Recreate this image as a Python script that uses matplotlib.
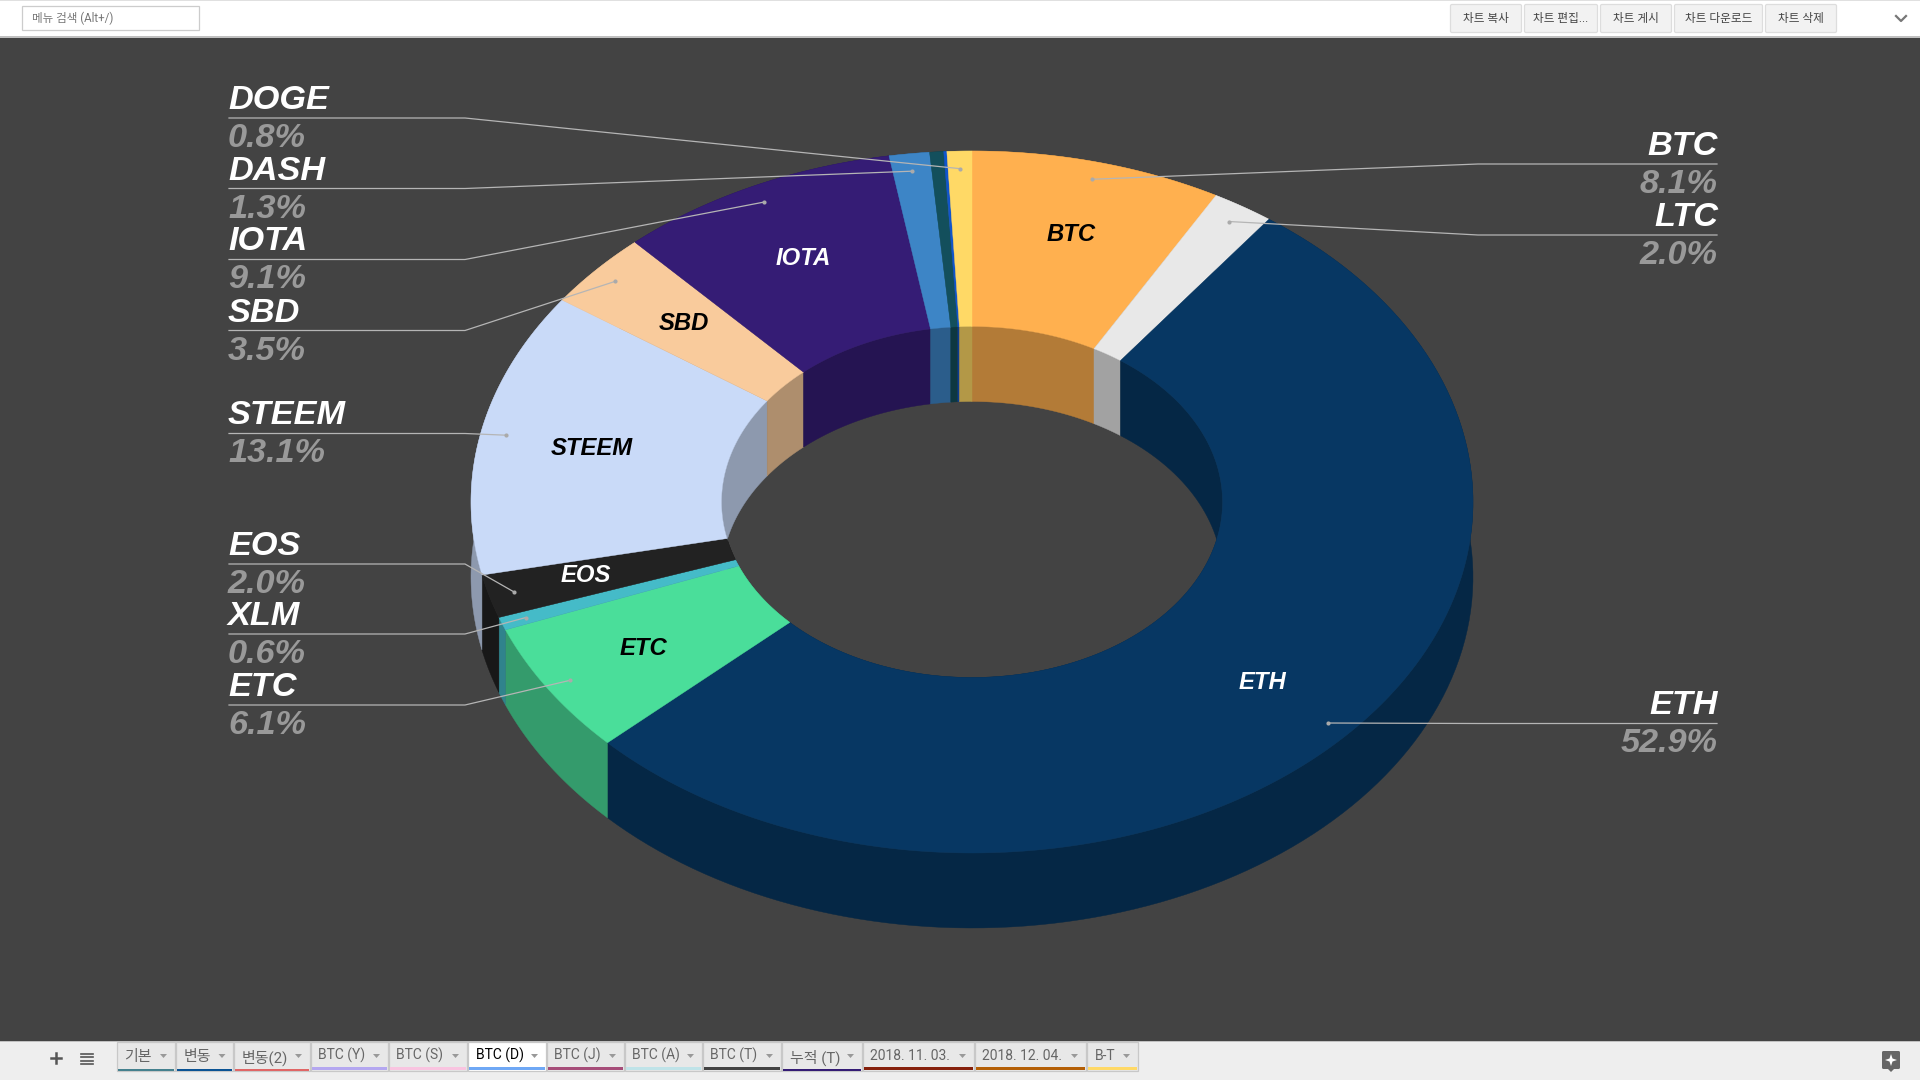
import matplotlib
matplotlib.use('Agg')
import matplotlib.pyplot as plt
import numpy as np
from matplotlib.patches import Rectangle, FancyBboxPatch, Polygon

# slices clockwise from 12 o'clock
names = ['BTC', 'LTC', 'ETH', 'ETC', 'XLM', 'EOS', 'STEEM', 'SBD', 'IOTA', 'DASH', 'NEO', 'ETN', 'DOGE']
values = [8.1, 2.0, 52.9, 6.1, 0.6, 2.0, 13.1, 3.5, 9.1, 1.3, 0.45, 0.1, 0.8]
colors = ['#ffb04f', '#e8e8e8', '#073763', '#4ade9a', '#45bbc8', '#222222', '#c9daf8',
          '#f9cb9c', '#351c75', '#3d85c6', '#134f5c', '#1155cc', '#ffd966']

# labels inside the slices and their colour
inner_labels = {'BTC': 'black', 'ETH': 'white', 'ETC': 'black', 'EOS': 'white',
                'STEEM': 'black', 'SBD': 'black', 'IOTA': 'white'}
# small pixel corrections for the inside labels
inner_nudge = {'BTC': (1.2, -2.5), 'ETH': (-2.4, -1.3), 'ETC': (1.2, -0.1), 'EOS': (-9.8, -0.1),
               'STEEM': (2.4, 1.2), 'SBD': (4.9, 2.4), 'IOTA': (2.4, 2.4)}

# callouts: name, y of the horizontal part of the leader
left_callouts = [('DOGE', 118), ('DASH', 188.5), ('IOTA', 259.5), ('SBD', 330.5),
                 ('STEEM', 433.5), ('EOS', 564), ('XLM', 634), ('ETC', 705)]
right_callouts = [('BTC', 164), ('LTC', 235), ('ETH', 723.5)]

# toolbar + tabs
search_text = '메뉴 검색 (Alt+/)'
buttons = ['차트 복사', '차트 편집...', '차트 게시', '차트 다운로드', '차트 삭제']
button_edges = [(1450, 1522), (1524, 1598), (1600, 1672), (1674, 1763), (1765, 1837)]
tabs = ['기본', '변동', '변동(2)', 'BTC (Y)', 'BTC (S)', 'BTC (D)', 'BTC (J)', 'BTC (A)', 'BTC (T)',
        '누적 (T)', '2018. 11. 03.', '2018. 12. 04.', 'B-T']
tab_edges = [116, 175, 233.5, 310, 388, 467, 546, 624, 702, 781, 862, 974, 1086, 1138]
tab_colors = ['#45818e', '#0b5394', '#e06666', '#b4a7f0', '#f9c4e0', '#6fa8f5', '#a64d79',
              '#bfe3e8', '#434343', '#351c75', '#85200c', '#b45f06', '#ffd966']
thin_tabs = ['기본', '변동', '변동(2)', '누적 (T)']
active_tab = 'BTC (D)'

BG = '#434343'
cx, cy, rx, ry = 972, 502, 501, 351
hole = 0.5
depth = 75
shade = 0.7

UI_FONT = ['Roboto', 'Noto Sans CJK KR', 'DejaVu Sans']

fig = plt.figure(figsize=(19.2, 10.8), dpi=100, facecolor=BG)
ax = fig.add_axes([0, 0, 1, 1])
ax.set_xlim(0, 1920)
ax.set_ylim(1080, 0)
ax.axis('off')


def pt(theta, r=1.0):
    return cx + r * rx * np.sin(theta), cy - r * ry * np.cos(theta)


def darker(c):
    return tuple(v * shade for v in matplotlib.colors.to_rgb(c))


shares = np.array(values) / sum(values)
ends = np.cumsum(shares) * 2 * np.pi
starts = ends - shares * 2 * np.pi
mids = (starts + ends) / 2

# walls first, the top faces cover whatever is not visible
for a, b, c in zip(starts, ends, colors):
    t = np.linspace(a, b, 120)
    for r in (hole, 1.0):
        x, y = pt(t, r)
        ax.fill(np.r_[x, x[::-1]], np.r_[y, y[::-1] + depth], color=darker(c), lw=0.3, zorder=1)

for a, b, c in zip(starts, ends, colors):
    t = np.linspace(a, b, 200)
    xo, yo = pt(t)
    xi, yi = pt(t, hole)
    ax.fill(np.r_[xo, xi[::-1]], np.r_[yo, yi[::-1]], color=c, lw=0.3, zorder=2)

# labels on the slices
for n, m in zip(names, mids):
    if n in inner_labels:
        x, y = pt(m, 0.78)
        ax.text(x + inner_nudge[n][0], y + inner_nudge[n][1], n, color=inner_labels[n], fontsize=17.2,
                family='Liberation Sans', weight='bold', style='italic', ha='center', va='center', zorder=4)

# leaders + callout text
LEAD = '#b5b5b5'
PCT = '#999999'
idx = {n: i for i, n in enumerate(names)}


def callout(name, ly, x_end, x_elbow, x_text, ha):
    i = idx[name]
    x, y = pt(mids[i], 0.95)
    ax.plot([x_end, x_elbow, x], [ly, ly, y], color=LEAD, lw=0.9, zorder=3, solid_joinstyle='miter')
    ax.plot([x], [y], 'o', color='#aaaaaa', ms=3, mew=0, zorder=3)
    ax.text(x_text, ly - 9, name, color='white', fontsize=24.7, family='Liberation Sans',
            weight='bold', style='italic', ha=ha, va='baseline', zorder=4)
    ax.text(x_text, ly + 29, '%.1f%%' % values[i], color=PCT, fontsize=24.7, family='Liberation Sans',
            weight='bold', style='italic', ha=ha, va='baseline', zorder=4)


for name, ly in left_callouts:
    callout(name, ly, 229, 465, 228, 'left')
for name, ly in right_callouts:
    callout(name, ly, 1717, 1478, 1718, 'right')

# top toolbar
ax.add_patch(Rectangle((0, 0), 1920, 36, fc='white', ec='none', zorder=5))
ax.add_patch(Rectangle((0, 0), 1920, 1, fc='#e0e0e0', ec='none', zorder=5))
ax.add_patch(Rectangle((0, 36), 1920, 1.7, fc='#c0c0c0', ec='none', zorder=5))
ax.add_patch(Rectangle((22, 5.5), 177, 24, fc='white', ec='#cccccc', lw=0.9, zorder=6))
ax.text(31.5, 18, search_text, color='#777777', fontsize=8.3, family=UI_FONT, va='center', ha='left', zorder=7)
for label, (x0, x1) in zip(buttons, button_edges):
    ax.add_patch(FancyBboxPatch((x0 + 0.5, 4.5), x1 - x0 - 1, 28, boxstyle='round,pad=0,rounding_size=1.5',
                                fc='#f2f2f2', ec='#dddddd', lw=0.9, zorder=6))
    ax.text((x0 + x1) / 2, 18.5, label, color='#444444', fontsize=8.4, family=UI_FONT, ha='center', va='center', zorder=7)
ax.plot([1896, 1901, 1906], [16, 21, 16], color='#777777', lw=1.6, zorder=7)

# bottom tab strip
ax.add_patch(Rectangle((0, 1041.5), 1920, 39, fc='#eeeeee', ec='none', zorder=5))
ax.add_patch(Rectangle((0, 1041), 1920, 1, fc='#c0c0c0', ec='none', zorder=5))
ax.plot([51, 61], [1058, 1058], color='#555555', lw=1.8, zorder=7)
ax.plot([56, 56], [1053, 1063], color='#555555', lw=1.8, zorder=7)
for yy in (1053.5, 1057, 1060.5, 1064):
    ax.plot([81, 93], [yy, yy], color='#555555', lw=1.2, zorder=7)

for k, label in enumerate(tabs):
    x0, x1 = tab_edges[k], tab_edges[k + 1]
    active = label == active_tab
    ax.add_patch(Rectangle((x0 + 0.5, 1041.5 if active else 1042), x1 - x0 - 1, 29,
                           fc='white' if active else '#e8e8e8', ec='#c8c8c8', lw=0.9, zorder=6))
    if label in thin_tabs:
        ax.add_patch(Rectangle((x0 + 1.5, 1069), x1 - x0 - 3, 2, fc=tab_colors[k], ec='none', zorder=7))
    else:
        ax.add_patch(Rectangle((x0 + 1.5, 1067), x1 - x0 - 3, 3, fc=tab_colors[k], ec='none', zorder=7))
    # the hangul tabs sit lower and run larger in the reference
    kr = label in thin_tabs
    ax.text(x0 + 8.5, 1057.5 if kr else 1055.5, label, color='black' if active else '#666666',
            fontsize=10.8 if kr else 10.0, family=UI_FONT, ha='left', va='center', zorder=8)
    ax.add_patch(Polygon([(x1 - 15, 1054), (x1 - 8, 1054), (x1 - 11.5, 1058)], fc='#999999', ec='none', zorder=8))

# note icon bottom right
ax.add_patch(FancyBboxPatch((1882, 1051), 18, 18, boxstyle='round,pad=0,rounding_size=1.5',
                            fc='#666666', ec='none', zorder=7))
ax.add_patch(Polygon([(1888, 1069), (1894, 1069), (1891, 1072)], fc='#666666', ec='none', zorder=7))
ax.add_patch(Polygon([(1891, 1054), (1892.5, 1058.5), (1897, 1060), (1892.5, 1061.5), (1891, 1066),
                      (1889.5, 1061.5), (1885, 1060), (1889.5, 1058.5)], fc='white', ec='none', zorder=8))

fig.savefig('out.png', dpi=100, facecolor=BG)
